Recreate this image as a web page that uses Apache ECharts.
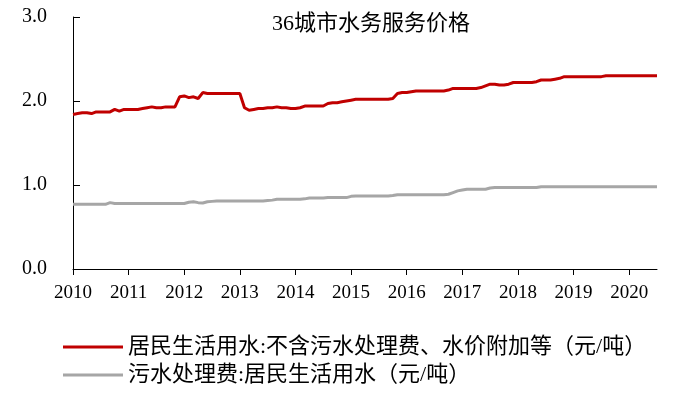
<!DOCTYPE html>
<html>
<head>
<meta charset="utf-8">
<script src="https://cdn.jsdelivr.net/npm/echarts@6/dist/echarts.min.js"></script>
<style>
  html, body { margin: 0; padding: 0; background: #fff; }
  #chart { width: 680px; height: 398px; }
</style>
</head>
<body>
<div id="chart"></div>
<script>
// Monthly series, Jan 2010 .. Jul 2020.
const startYear = 2010;
const monthCount = 127;

const residentialWater = [
  1.84, 1.85, 1.86, 1.86, 1.85, 1.87, 1.87, 1.87, 1.87, 1.90, 1.88, 1.90,
  1.90, 1.90, 1.90, 1.91, 1.92, 1.93, 1.92, 1.92, 1.93, 1.93, 1.93, 2.05,
  2.06, 2.04, 2.05, 2.03, 2.10, 2.09, 2.09, 2.09, 2.09, 2.09, 2.09, 2.09,
  2.09, 1.92, 1.89, 1.90, 1.91, 1.91, 1.92, 1.92, 1.93, 1.92, 1.92, 1.91,
  1.91, 1.92, 1.94, 1.94, 1.94, 1.94, 1.94, 1.97, 1.98, 1.98, 1.99, 2.00,
  2.01, 2.02, 2.02, 2.02, 2.02, 2.02, 2.02, 2.02, 2.02, 2.03, 2.09, 2.10,
  2.10, 2.11, 2.12, 2.12, 2.12, 2.12, 2.12, 2.12, 2.12, 2.13, 2.15, 2.15,
  2.15, 2.15, 2.15, 2.15, 2.16, 2.18, 2.20, 2.20, 2.19, 2.19, 2.20, 2.22,
  2.22, 2.22, 2.22, 2.22, 2.23, 2.25, 2.25, 2.25, 2.26, 2.27, 2.29, 2.29,
  2.29, 2.29, 2.29, 2.29, 2.29, 2.29, 2.29, 2.30, 2.30, 2.30, 2.30, 2.30,
  2.30, 2.30, 2.30, 2.30, 2.30, 2.30, 2.30
];

const sewageFee = [
  0.77, 0.77, 0.77, 0.77, 0.77, 0.77, 0.77, 0.77, 0.79, 0.78, 0.78, 0.78,
  0.78, 0.78, 0.78, 0.78, 0.78, 0.78, 0.78, 0.78, 0.78, 0.78, 0.78, 0.78,
  0.78, 0.795, 0.80, 0.79, 0.785, 0.80, 0.805, 0.81, 0.81, 0.81, 0.81, 0.81,
  0.81, 0.81, 0.81, 0.81, 0.81, 0.81, 0.815, 0.82, 0.83, 0.83, 0.83, 0.83,
  0.83, 0.83, 0.835, 0.845, 0.845, 0.845, 0.845, 0.85, 0.85, 0.85, 0.85, 0.85,
  0.865, 0.87, 0.87, 0.87, 0.87, 0.87, 0.87, 0.87, 0.87, 0.875, 0.885, 0.885,
  0.885, 0.885, 0.885, 0.885, 0.885, 0.885, 0.885, 0.885, 0.885, 0.89, 0.91, 0.93,
  0.94, 0.95, 0.95, 0.95, 0.95, 0.95, 0.965, 0.97, 0.97, 0.97, 0.97, 0.97,
  0.97, 0.97, 0.97, 0.97, 0.97, 0.98, 0.98, 0.98, 0.98, 0.98, 0.98, 0.98,
  0.98, 0.98, 0.98, 0.98, 0.98, 0.98, 0.98, 0.98, 0.98, 0.98, 0.98, 0.98,
  0.98, 0.98, 0.98, 0.98, 0.98, 0.98, 0.98
];

const seriesNames = [
  '居民生活用水:不含污水处理费、水价附加等（元/吨）',
  '污水处理费:居民生活用水（元/吨）'
];
const yTicks = [0, 1, 2, 3];

const months = [];
for (let i = 0; i < monthCount; i++) {
  const y = startYear + Math.floor(i / 12);
  const m = (i % 12) + 1;
  months.push(y + '-' + (m < 10 ? '0' + m : m));
}

const FONT = "'Liberation Serif', 'Noto Sans CJK SC', serif";
const isYearStart = (index) => index % 12 === 0;

const chart = echarts.init(document.getElementById('chart'), null, { renderer: 'canvas' });
chart.setOption({
  animation: false,
  backgroundColor: '#fff',
  title: {
    text: '36城市水务服务价格',
    left: 366,
    top: 8,
    textAlign: 'center',
    textStyle: { fontFamily: FONT, fontSize: 22, fontWeight: 'normal', color: '#000' }
  },
  grid: { left: 73, right: 23, top: 17, bottom: 129, containLabel: false },
  legend: {
    orient: 'vertical',
    left: 58,
    top: 331,
    padding: 5,
    itemWidth: 60,
    itemHeight: 3,
    itemGap: 6,
    icon: 'rect',
    textStyle: { fontFamily: FONT, fontSize: 22, color: '#000' },
    data: seriesNames
  },
  xAxis: {
    type: 'category',
    data: months,
    boundaryGap: false,
    axisLine: { lineStyle: { color: '#000', width: 1 } },
    axisTick: { interval: isYearStart, length: 6, lineStyle: { color: '#000' } },
    axisLabel: {
      interval: isYearStart,
      formatter: (v) => v.slice(0, 4),
      margin: 15,
      fontFamily: FONT,
      fontSize: 19,
      color: '#000'
    },
    splitLine: { show: false }
  },
  yAxis: {
    type: 'value',
    min: yTicks[0],
    max: yTicks[yTicks.length - 1],
    interval: 1,
    axisLine: { show: true, lineStyle: { color: '#000', width: 1 } },
    axisTick: { show: true, inside: true, length: 7, lineStyle: { color: '#000' } },
    axisLabel: {
      formatter: (v) => v.toFixed(1),
      margin: 26,
      fontFamily: FONT,
      fontSize: 20,
      color: '#000'
    },
    splitLine: { show: false }
  },
  series: [
    {
      name: seriesNames[0],
      type: 'line',
      data: residentialWater,
      symbol: 'none',
      color: '#C00000',
      lineStyle: { color: '#C00000', width: 3 }
    },
    {
      name: seriesNames[1],
      type: 'line',
      data: sewageFee,
      symbol: 'none',
      color: '#A6A6A6',
      lineStyle: { color: '#A6A6A6', width: 3 }
    }
  ]
});
</script>
</body>
</html>
